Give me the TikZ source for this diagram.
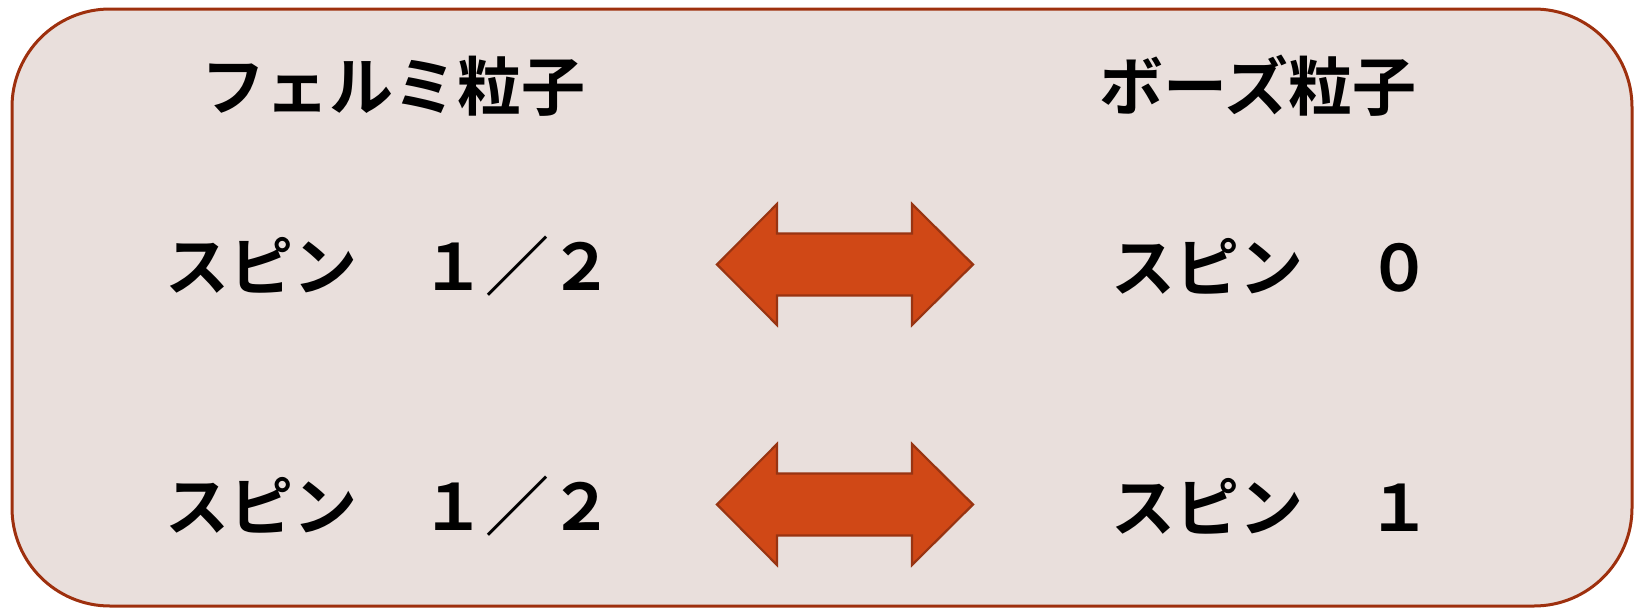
\documentclass[tikz,border=0pt]{standalone}
\usepackage{fontspec}
\newfontfamily\jpfont{Noto Sans CJK JP}[BoldFont={* Bold}]
\usetikzlibrary{calc}
\definecolor{panelfill}{RGB}{233,223,220}
\definecolor{paneledge}{RGB}{158,48,14}
\definecolor{arrowfill}{RGB}{208,72,22}
\definecolor{arrowedge}{RGB}{152,52,18}
\tikzset{
  panel/.style={draw=paneledge, line width=3pt, fill=panelfill, rounded corners=98pt},
  label/.style={inner sep=0pt, anchor=west, font=\jpfont\bfseries\fontsize{64}{72}\selectfont},
  title/.style={inner sep=0pt, anchor=center, font=\jpfont\bfseries\fontsize{64}{72}\selectfont},
  pics/dblarrow/.style={code={
    \draw[fill=arrowfill, draw=arrowedge, line width=2.2pt, line join=miter]
      (-128,0) -- (-68,-60.5) -- (-68,-31) -- (67,-31) -- (67,-60.5) -- (128,0)
      -- (67,60.5) -- (67,31) -- (-68,31) -- (-68,60.5) -- cycle;
  }}
}
\begin{document}
\begin{tikzpicture}[x=1pt, y=-1pt]
  \useasboundingbox (0,0) rectangle (1634,608);
  % background panel
  \draw[panel] (12,9) rectangle (1632,606);

  % column headings
  \node[title] (fermion) at (393,86) {フェルミ粒子};
  \node[title] (boson) at (1258,86) {ボーズ粒子};

  % spin values
  \node[label] (f1) at (165,266) {スピン　１／２};
  \node[label] (f2) at (165,506) {スピン　１／２};
  \node[label] (b1) at (1111,266) {スピン　０};
  \node[label] (b2) at (1111,506) {スピン　１};

  % double arrows linking the pairs
  \pic (pair1) at (845,264.5) {dblarrow};
  \pic (pair2) at (845,504.5) {dblarrow};
\end{tikzpicture}
\end{document}
